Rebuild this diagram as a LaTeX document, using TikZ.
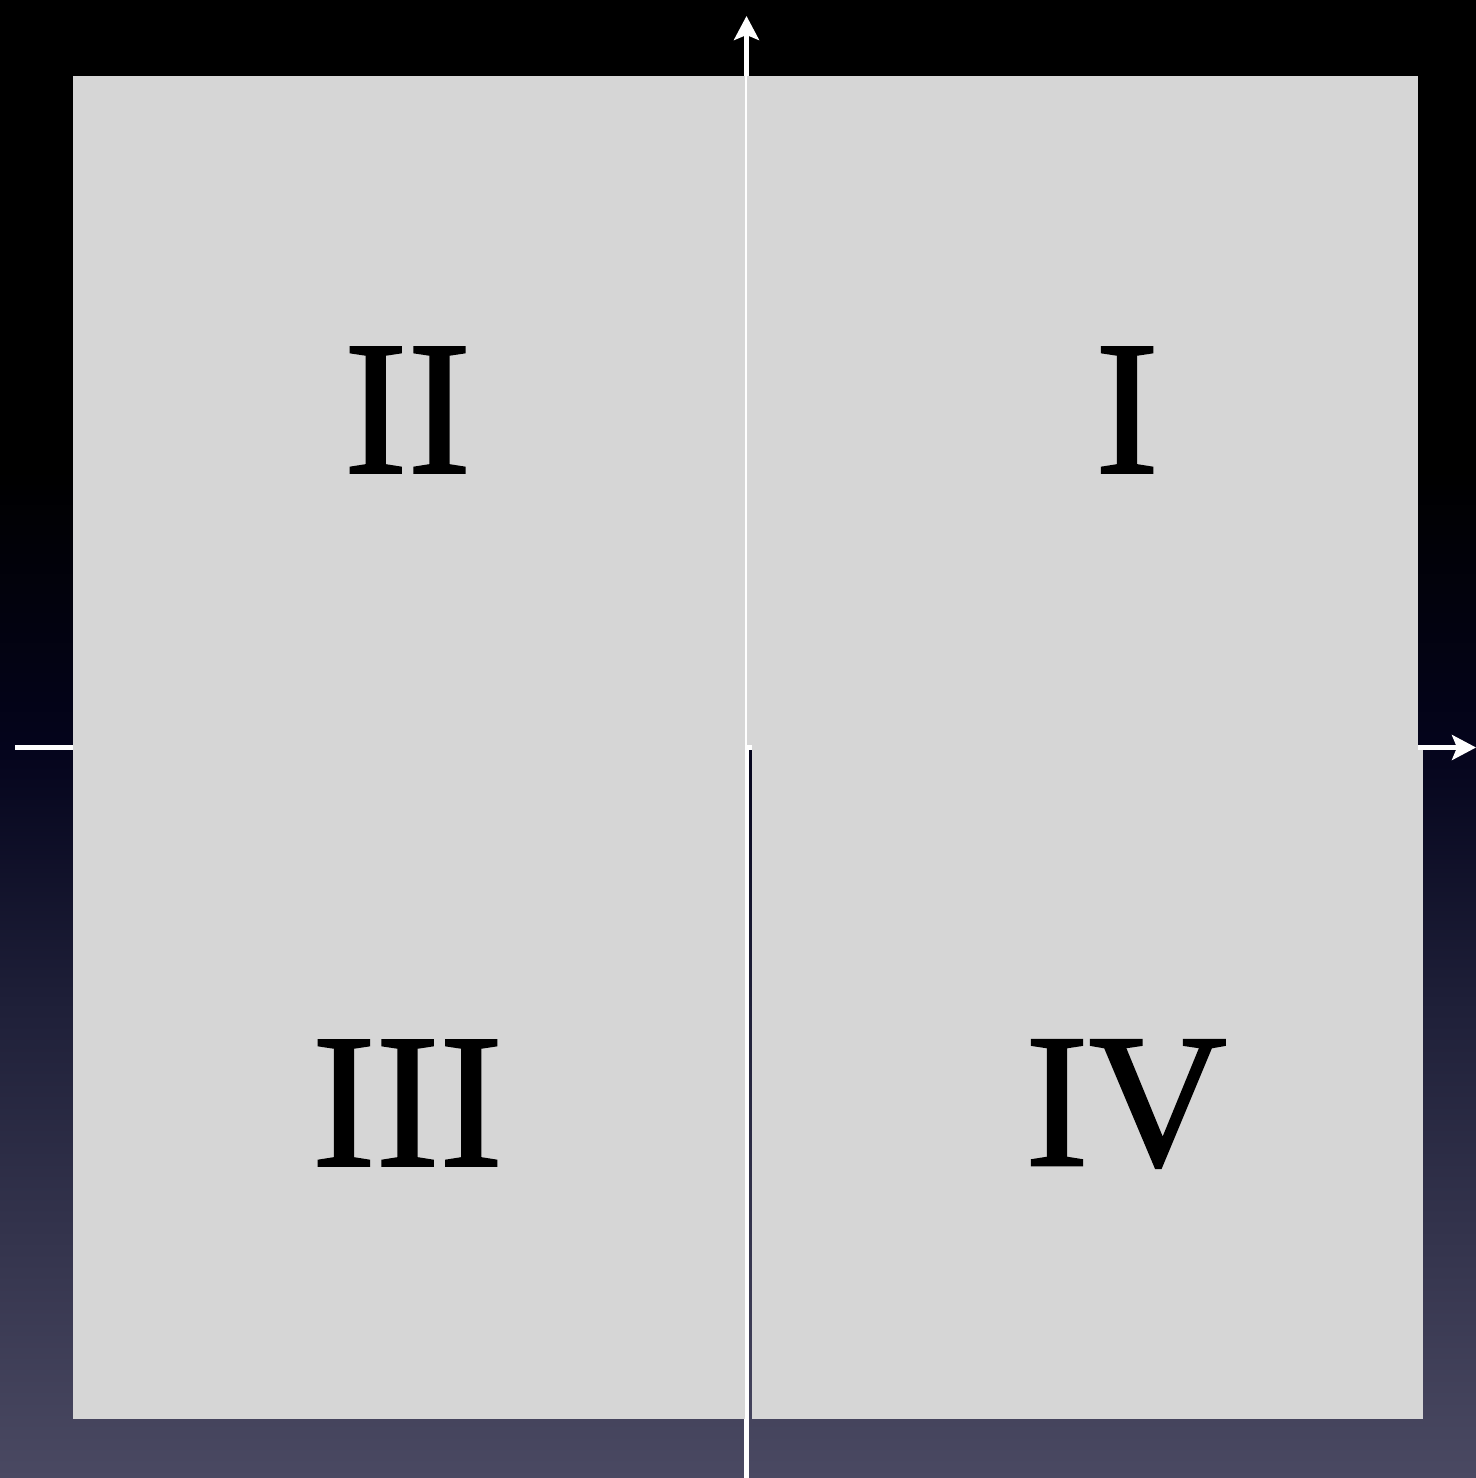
\documentclass[tikz,border=0pt]{standalone}
\usepackage{fontspec}
\setmainfont{Liberation Serif}
\newfontfamily\numfont[FakeBold=1.2]{Liberation Serif}
\usetikzlibrary{arrows.meta}
\definecolor{quad}{HTML}{D6D6D6}
\definecolor{bgA}{HTML}{000000}
\definecolor{bgB}{HTML}{04041C}
\definecolor{bgC}{HTML}{1E1F38}
\definecolor{bgD}{HTML}{4A4962}
\tikzset{
  quadbox/.style={fill=quad, draw=none},
  axisline/.style={draw=white, line width=4.5bp, -{Stealth[length=24bp, width=25bp, inset=5bp]}},
  numeral/.style={inner sep=0pt, font=\numfont\fontsize{192}{192}\selectfont, text=black}
}
\begin{document}
\begin{tikzpicture}[x=1bp, y=-1bp]
\useasboundingbox (0,0) rectangle (1476,1478);
% background gradient
\fill[bgA] (0,0) rectangle (1476,471);
\shade[top color=bgA, bottom color=bgB] (0,470) rectangle (1476,746);
\shade[top color=bgB, bottom color=bgC] (0,745) rectangle (1476,1001);
\shade[top color=bgC, bottom color=bgD] (0,1000) rectangle (1476,1478);
% axes
\coordinate (xl) at (15,747.5);
\coordinate (xr) at (1476,747.5);
\coordinate (yb) at (746.5,1478);
\coordinate (yt) at (746.5,16);
\draw[axisline] (xl) -- (xr);
\draw[axisline] (yb) -- (yt);
% quadrants
\fill[quadbox] (73,76) rectangle (745,745);
\fill[quadbox] (747,76) rectangle (1418,745);
\fill[quadbox] (73,745) rectangle (745,1419);
\fill[quadbox] (752,750) rectangle (1423,1419);
\fill[quadbox] (752,745) rectangle (1418,750);
% labels
\node[numeral] (q2) at (407.5,410) {II};
\node[numeral] (q1) at (1127,410) {I};
\node[numeral] (q3) at (407.5,1103) {III};
\node[numeral] (q4) at (1126,1104) {IV};
\end{tikzpicture}
\end{document}
